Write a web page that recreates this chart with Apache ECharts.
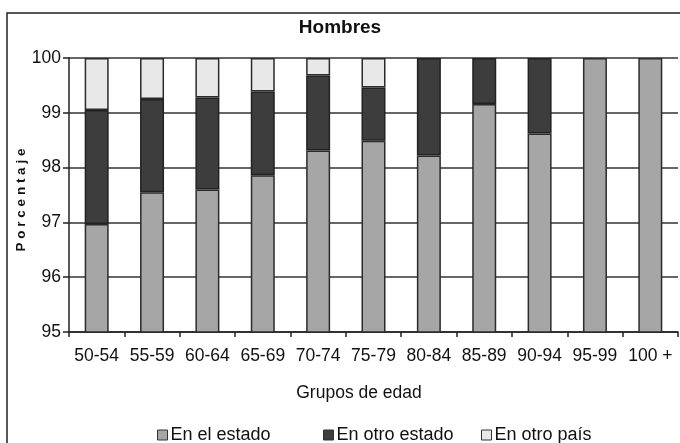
<!DOCTYPE html>
<html>
<head>
<meta charset="utf-8">
<title>Hombres</title>
<script src="https://cdn.jsdelivr.net/npm/echarts@6/dist/echarts.min.js"></script>
<style>
  html, body { margin: 0; padding: 0; background: #fff; }
  #main { width: 680px; height: 443px; }
</style>
</head>
<body>
<div id="main"></div>
<script type="text/javascript">
// grupos de edad
var categorias = ['50-54', '55-59', '60-64', '65-69', '70-74', '75-79', '80-84', '85-89', '90-94', '95-99', '100 +'];
// porcentajes (cada serie es su propio tramo)
var enElEstado   = [96.97, 97.55, 97.60, 97.86, 98.31, 98.49, 98.22, 99.16, 98.62, 100, 100];
var enOtroEstado = [2.08, 1.70, 1.68, 1.53, 1.37, 0.97, 1.78, 0.84, 1.38, 0, 0];
var enOtroPais   = [0.95, 0.75, 0.72, 0.61, 0.32, 0.54, 0, 0, 0, 0, 0];
var yTicks = [95, 96, 97, 98, 99, 100];

var fuente = '"Liberation Sans", Arial, sans-serif';

// los tramos vacios no se dibujan
function sinCeros(arr) {
    return arr.map(function (v) { return v === 0 ? null : v; });
}

var myChart = echarts.init(document.getElementById('main'));

var option = {
    backgroundColor: '#fff',
    animation: false,
    title: {
        text: 'Hombres',
        left: 'center',
        top: 18,
        padding: 0,
        textStyle: { fontFamily: fuente, fontSize: 19, fontWeight: 'bold', color: '#111' }
    },
    legend: [
        { data: ['En el estado'], left: 157, top: 426 },
        { data: ['En otro estado'], left: 323, top: 426 },
        { data: ['En otro país'], left: 481, top: 426 }
    ].map(function (l) {
        l.orient = 'horizontal';
        l.icon = 'rect';
        l.itemWidth = 10;
        l.itemHeight = 10;
        l.padding = 0;
        l.itemStyle = { borderColor: '#333', borderWidth: 1 };
        l.textStyle = { fontFamily: fuente, fontSize: 18, color: '#111', padding: [0, 0, 0, -2] };
        return l;
    }),
    grid: { left: 69, right: 2, top: 58, bottom: 111 },
    xAxis: {
        type: 'category',
        data: categorias,
        boundaryGap: true,
        axisLine: { lineStyle: { color: '#222', width: 1.5 } },
        axisTick: { show: true, length: 5, lineStyle: { color: '#222', width: 1.5 } },
        axisLabel: { fontFamily: fuente, fontSize: 17.5, color: '#111', margin: 15, interval: 0 },
        splitLine: { show: false }
    },
    yAxis: {
        type: 'value',
        min: yTicks[0],
        max: yTicks[yTicks.length - 1],
        interval: 1,
        axisLine: { show: true, lineStyle: { color: '#222', width: 1.5 } },
        axisTick: { show: true, length: 6, lineStyle: { color: '#222', width: 1.5 } },
        axisLabel: { fontFamily: fuente, fontSize: 17.5, color: '#111', margin: 8 },
        splitLine: { show: true, lineStyle: { color: '#333', width: 1.5 } }
    },
    graphic: [
        {
            type: 'rect',
            silent: true,
            z: -1,
            shape: { x: 7, y: 13, width: 700, height: 460 },
            style: { fill: 'none', stroke: '#222', lineWidth: 1.5 }
        },
        {
            type: 'text',
            x: 21,
            y: 200,
            rotation: Math.PI / 2,
            style: {
                text: 'P o r c e n t a j e',
                fontFamily: fuente,
                fontSize: 13.5,
                fontWeight: 'bold',
                fill: '#111',
                textAlign: 'center',
                textVerticalAlign: 'middle'
            }
        },
        {
            type: 'text',
            x: 359,
            y: 393,
            style: {
                text: 'Grupos de edad',
                fontFamily: fuente,
                fontSize: 17.5,
                fill: '#111',
                textAlign: 'center',
                textVerticalAlign: 'middle'
            }
        }
    ],
    series: [
        {
            name: 'En el estado',
            type: 'bar',
            stack: 'total',
            barWidth: 24,
            data: enElEstado,
            itemStyle: { color: '#a6a6a6', borderColor: '#2b2b2b', borderWidth: 1.5 }
        },
        {
            name: 'En otro estado',
            type: 'bar',
            stack: 'total',
            barWidth: 24,
            data: sinCeros(enOtroEstado),
            itemStyle: { color: '#3d3d3d', borderColor: '#222', borderWidth: 1.5 }
        },
        {
            name: 'En otro país',
            type: 'bar',
            stack: 'total',
            barWidth: 24,
            data: sinCeros(enOtroPais),
            itemStyle: { color: '#e8e8e8', borderColor: '#2b2b2b', borderWidth: 1.5 }
        }
    ]
};

myChart.setOption(option);
</script>
</body>
</html>
